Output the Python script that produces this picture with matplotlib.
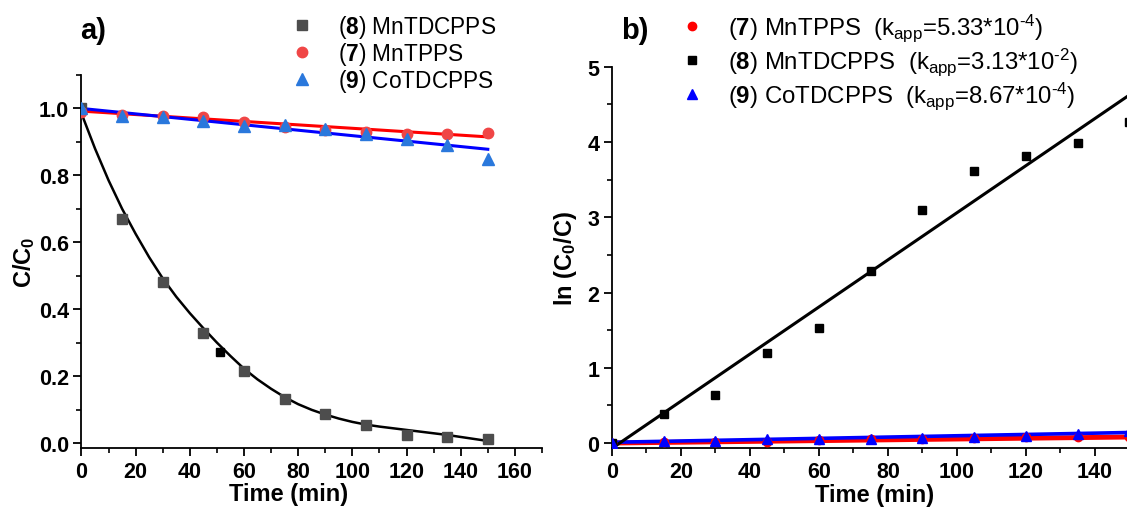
import numpy as np
import matplotlib
matplotlib.use("Agg")
import matplotlib.pyplot as plt
from matplotlib.ticker import MultipleLocator, FormatStrFormatter

plt.rcParams['font.family'] = ['Liberation Sans', 'DejaVu Sans']
plt.rcParams['mathtext.fontset'] = 'custom'
plt.rcParams['mathtext.rm'] = 'Liberation Sans'
plt.rcParams['mathtext.bf'] = 'Liberation Sans:bold'
plt.rcParams['mathtext.it'] = 'Liberation Sans:italic'

# --- panel a: C/C0 vs time ---
t = [0, 15, 30, 45, 60, 75, 90, 105, 120, 135, 150]
mn_tdcpps = [1.0, 0.67, 0.48, 0.33, 0.215, 0.13, 0.088, 0.055, 0.025, 0.018, 0.012]
mn_tpps = [0.99, 0.98, 0.978, 0.973, 0.958, 0.945, 0.935, 0.93, 0.925, 0.925, 0.927]
co_tdcpps = [1.0, 0.978, 0.975, 0.963, 0.948, 0.95, 0.94, 0.925, 0.91, 0.89, 0.85]
extra_t, extra_c = [51], [0.272]

# fitted decay curve for MnTDCPPS
fit_t = list(range(0, 155, 5))
fit_c = [0.985, 0.88, 0.785, 0.70, 0.625, 0.555, 0.492, 0.437, 0.388, 0.343,
         0.300, 0.260, 0.222, 0.190, 0.162, 0.137, 0.116, 0.099, 0.085, 0.073,
         0.063, 0.055, 0.049, 0.044, 0.039, 0.034, 0.029, 0.024, 0.018, 0.012, 0.006]
# linear fits (start, end) for the slow catalysts
tpps_fit = [0.992, 0.915]
co_fit = [1.0, 0.878]

# --- panel b: ln(C0/C) vs time ---
ln_mn_tdcpps = [0.0, 0.38, 0.64, 1.19, 1.53, 2.28, 3.09, 3.61, 3.81, 3.98, 4.27]
ln_mn_tpps = [0.0, 0.01, 0.015, 0.02, 0.04, 0.055, 0.06, 0.07, 0.075, 0.075, 0.077]
ln_co_tdcpps = [0.0, 0.03, 0.03, 0.05, 0.06, 0.06, 0.065, 0.08, 0.10, 0.12, 0.16]
k_app = {'7': 5.33e-4, '8': 3.13e-2, '9': 8.67e-4}
intercepts = {'7': 0.0, '8': -0.07, '9': 0.01}

fig = plt.figure(figsize=(11.27, 5.10), dpi=100)
ax1 = fig.add_axes([0.0723, 0.1196, 0.4086, 0.7314])
ax2 = fig.add_axes([0.543, 0.1196, 0.4653, 0.7476])


def style_axis(ax):
    for s in ['top', 'right']:
        ax.spines[s].set_visible(False)
    for s in ['left', 'bottom']:
        ax.spines[s].set_linewidth(1.3)
    ax.tick_params(which='major', direction='out', length=6, width=1.3,
                   labelsize=15.5, pad=3)
    ax.tick_params(which='minor', direction='out', length=3.5, width=1.2)
    for lab in ax.get_xticklabels() + ax.get_yticklabels():
        lab.set_fontweight('bold')


# panel a
ax1.plot(fit_t, fit_c, color='black', lw=1.8, zorder=2)
ax1.plot([t[0], t[-1]], tpps_fit, color='red', lw=2.2, zorder=2)
ax1.plot([t[0], t[-1]], co_fit, color='blue', lw=2.2, zorder=2)
h8, = ax1.plot(t, mn_tdcpps, 's', color='#4d4d4d', ms=7.5, ls='none', zorder=3)
ax1.plot(extra_t, extra_c, 's', color='black', ms=5.5, ls='none', zorder=3)
h7, = ax1.plot(t, mn_tpps, 'o', color='#f04646', ms=7.5, ls='none', zorder=3)
h9, = ax1.plot(t, co_tdcpps, '^', color='#2a78dc', ms=8, ls='none', zorder=3)
ax1.set_xlim(0, 170)
ax1.set_ylim(-0.015, 1.1)
ax1.xaxis.set_major_locator(MultipleLocator(20))
ax1.xaxis.set_minor_locator(MultipleLocator(10))
ax1.yaxis.set_major_locator(MultipleLocator(0.2))
ax1.yaxis.set_minor_locator(MultipleLocator(0.1))
ax1.yaxis.set_major_formatter(FormatStrFormatter('%.1f'))
style_axis(ax1)
ax1.set_xlabel('Time (min)', fontsize=17, fontweight='bold', labelpad=1)
ax1.xaxis.set_label_coords(0.45, -0.09)
ax1.set_ylabel(r'C/C$_\mathbf{0}$', fontsize=17, fontweight='bold', labelpad=1)
ax1.legend([h8, h7, h9],
           [r'($\mathbf{8}$) MnTDCPPS', r'($\mathbf{7}$) MnTPPS',
            r'($\mathbf{9}$) CoTDCPPS'],
           loc='upper left', bbox_to_anchor=(0.41, 1.19), frameon=False,
           fontsize=16.3, handletextpad=0.6, labelspacing=0.0,
           borderaxespad=0)
fig.text(0.071, 0.94, 'a)', fontsize=21, fontweight='bold', va='center')

# panel b
tt = np.array([0, 160])
ax2.plot(tt, intercepts['7'] + k_app['7'] * tt, color='red', lw=3.5, zorder=2)
ax2.plot(tt, intercepts['9'] + k_app['9'] * tt, color='blue', lw=2.6, zorder=2)
ax2.plot(tt, intercepts['8'] + k_app['8'] * tt, color='black', lw=2.2, zorder=2)
g7, = ax2.plot(t, ln_mn_tpps, 'o', color='red', ms=6, ls='none', zorder=3)
g8, = ax2.plot(t, ln_mn_tdcpps, 's', color='black', ms=6, ls='none', zorder=3)
g9, = ax2.plot(t, ln_co_tdcpps, '^', color='blue', ms=6.5, ls='none', zorder=3)
ax2.set_xlim(0, 152)
ax2.set_ylim(-0.066, 5.0)
ax2.xaxis.set_major_locator(MultipleLocator(20))
ax2.xaxis.set_minor_locator(MultipleLocator(10))
ax2.yaxis.set_major_locator(MultipleLocator(1))
ax2.yaxis.set_minor_locator(MultipleLocator(0.5))
style_axis(ax2)
ax2.set_xlabel('Time (min)', fontsize=17, fontweight='bold', labelpad=1)
ax2.set_ylabel(r'ln (C$_\mathbf{0}$/C)', fontsize=17, fontweight='bold', labelpad=6)


def k_label(num, name, k):
    mant, exp = f'{k:.2e}'.split('e')
    return (rf'($\mathbf{{{num}}}$) {name}  (k$_{{\mathrm{{app}}}}$={mant}*10'
            rf'$^{{\text{{{int(exp)}}}}}$)')


ax2.legend([g7, g8, g9],
           [k_label('7', 'MnTPPS', k_app['7']),
            k_label('8', 'MnTDCPPS', k_app['8']),
            k_label('9', 'CoTDCPPS', k_app['9'])],
           loc='upper left', bbox_to_anchor=(0.088, 1.17), frameon=False,
           fontsize=17.3, handletextpad=0.5, labelspacing=0.1,
           borderaxespad=0)
fig.text(0.551, 0.94, 'b)', fontsize=21, fontweight='bold', va='center')

fig.savefig('out.png', dpi=100)
